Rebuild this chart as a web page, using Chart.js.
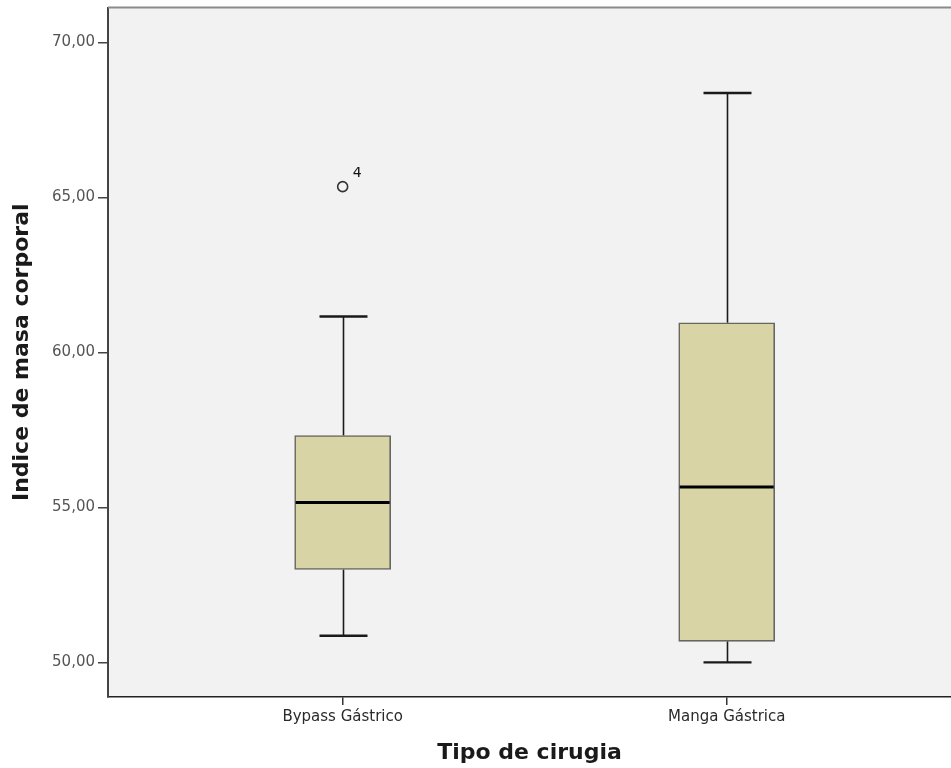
<!DOCTYPE html>
<html>
<head>
<meta charset="utf-8">
<title>Indice de masa corporal por tipo de cirugia</title>
<script src="https://cdn.jsdelivr.net/npm/chart.js@4/dist/chart.umd.min.js"></script>
<style>
  html, body { margin: 0; padding: 0; background: #ffffff; overflow: hidden; }
  #wrap { width: 951px; height: 768px; position: relative; }
</style>
</head>
<body>
<div id="wrap"><canvas id="chart"></canvas></div>
<script>
// Box plot summary for each surgery type
const categories = ['Bypass Gástrico', 'Manga Gástrica'];
const whiskerLow = [50.86, 50.00];
const q1 = [53.00, 50.68];
const median = [55.16, 55.66];
const q3 = [57.32, 60.96];
const whiskerHigh = [61.16, 68.37];
// Outliers: category index, value, case number
const outlierCategory = [0];
const outlierValue = [65.35];
const outlierCase = ['4'];
const yTicks = [50, 55, 60, 65, 70];

const plotBg = '#f2f2f2';

const boxData = categories.map((c, i) => ({ x: i, y: [q1[i], q3[i]] }));
const outlierData = outlierValue.map((v, k) => ({ x: outlierCategory[k], y: v }));

const boxPlugin = {
  id: 'boxParts',
  beforeDraw(chart) {
    const { ctx, chartArea: a } = chart;
    ctx.save();
    ctx.fillStyle = plotBg;
    ctx.fillRect(a.left, a.top, a.right - a.left, a.bottom - a.top);
    ctx.restore();
  },
  beforeDatasetsDraw(chart) {
    const { ctx, scales: { x, y } } = chart;
    ctx.save();
    ctx.strokeStyle = '#1a1a1a';
    categories.forEach((c, i) => {
      const cx = Math.round(x.getPixelForValue(i)) + 0.5;
      const capHalf = 24;
      ctx.lineWidth = 1.6;
      ctx.beginPath();
      ctx.moveTo(cx, y.getPixelForValue(whiskerHigh[i]));
      ctx.lineTo(cx, y.getPixelForValue(q3[i]));
      ctx.moveTo(cx, y.getPixelForValue(q1[i]));
      ctx.lineTo(cx, y.getPixelForValue(whiskerLow[i]));
      ctx.stroke();
      ctx.lineWidth = 2.4;
      ctx.beginPath();
      ctx.moveTo(cx - capHalf, y.getPixelForValue(whiskerHigh[i]));
      ctx.lineTo(cx + capHalf, y.getPixelForValue(whiskerHigh[i]));
      ctx.moveTo(cx - capHalf, y.getPixelForValue(whiskerLow[i]));
      ctx.lineTo(cx + capHalf, y.getPixelForValue(whiskerLow[i]));
      ctx.stroke();
    });
    ctx.restore();
  },
  afterDatasetsDraw(chart) {
    const { ctx, scales: { x, y }, chartArea: a } = chart;
    const meta = chart.getDatasetMeta(0);
    ctx.save();
    // median lines across each box
    ctx.strokeStyle = '#000000';
    ctx.lineWidth = 3;
    meta.data.forEach((bar, i) => {
      const half = bar.width / 2;
      const my = y.getPixelForValue(median[i]);
      ctx.beginPath();
      ctx.moveTo(bar.x - half + 1, my);
      ctx.lineTo(bar.x + half - 1, my);
      ctx.stroke();
    });
    // case numbers next to outliers
    ctx.fillStyle = '#111111';
    ctx.font = '14px "DejaVu Sans", sans-serif';
    ctx.textAlign = 'left';
    ctx.textBaseline = 'middle';
    outlierValue.forEach((v, k) => {
      const px = x.getPixelForValue(outlierCategory[k]);
      const py = y.getPixelForValue(v);
      ctx.fillText(outlierCase[k], px + 10, py - 13);
    });
    // upper frame line
    ctx.strokeStyle = '#8a8a8a';
    ctx.lineWidth = 2;
    ctx.beginPath();
    ctx.moveTo(a.left, a.top);
    ctx.lineTo(a.right, a.top);
    ctx.stroke();
    ctx.restore();
  }
};

new Chart(document.getElementById('chart'), {
  type: 'bar',
  data: {
    datasets: [
      {
        type: 'bar',
        data: boxData,
        backgroundColor: '#d9d4a6',
        borderColor: '#666660',
        borderWidth: 1.6,
        borderSkipped: false,
        barThickness: 96,
        order: 2
      },
      {
        type: 'scatter',
        data: outlierData,
        pointStyle: 'circle',
        pointRadius: 5,
        pointBackgroundColor: plotBg,
        pointBorderColor: '#333333',
        pointBorderWidth: 1.6,
        order: 1
      }
    ]
  },
  options: {
    responsive: true,
    maintainAspectRatio: false,
    animation: false,
    layout: { autoPadding: false, padding: { top: 7.5, right: 0, bottom: 0, left: 0 } },
    plugins: {
      legend: { display: false },
      tooltip: { enabled: false }
    },
    scales: {
      x: {
        type: 'linear',
        offset: false,
        min: -0.611,
        max: 1.584,
        afterFit(scale) { scale.height = 71; scale.paddingLeft = 0; scale.paddingRight = 0; },
        afterBuildTicks(scale) { scale.ticks = categories.map((c, i) => ({ value: i })); },
        ticks: {
          callback: (v) => categories[v],
          color: '#2a2a2a',
          font: { family: '"DejaVu Sans", sans-serif', size: 15 },
          padding: 3,
          maxRotation: 0,
          autoSkip: false
        },
        grid: { offset: false, drawOnChartArea: false, drawTicks: true, tickLength: 8, color: '#333333', lineWidth: 1.5 },
        border: { display: true, color: '#222222', width: 1.6 },
        title: {
          display: true,
          text: 'Tipo de cirugia',
          color: '#1a1a1a',
          font: { family: '"DejaVu Sans", sans-serif', size: 22, weight: 'bold' },
          padding: { top: 0, bottom: 2 }
        }
      },
      y: {
        type: 'linear',
        min: 48.884,
        max: 71.13,
        afterFit(scale) { scale.width = 108; scale.paddingTop = 0; scale.paddingBottom = 0; },
        afterBuildTicks(scale) { scale.ticks = yTicks.map(v => ({ value: v })); },
        ticks: {
          callback: (v) => v.toFixed(2).replace('.', ','),
          color: '#555555',
          font: { family: '"DejaVu Sans", sans-serif', size: 15 },
          padding: 3
        },
        grid: { drawOnChartArea: false, drawTicks: true, tickLength: 10, color: '#444444', lineWidth: 1.5 },
        border: { display: true, color: '#444444', width: 2 },
        title: {
          display: true,
          text: 'Indice de masa corporal',
          color: '#1a1a1a',
          font: { family: '"DejaVu Sans", sans-serif', size: 22, weight: 'bold' },
          padding: { top: 9, bottom: 0 }
        }
      }
    }
  },
  plugins: [boxPlugin]
});
</script>
</body>
</html>
